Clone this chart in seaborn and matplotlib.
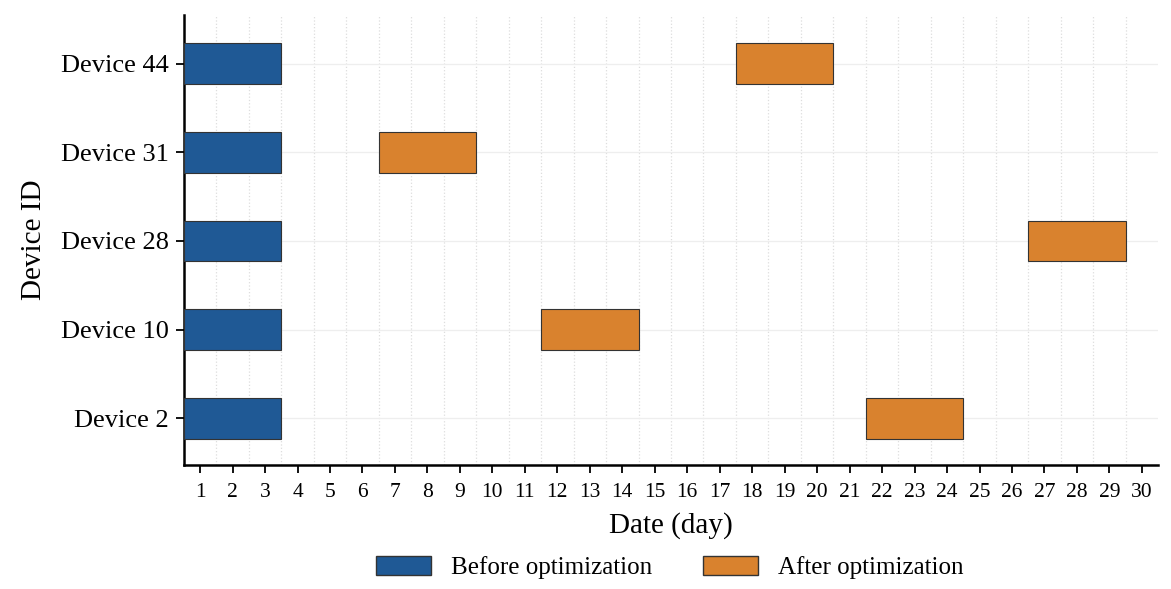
import pandas as pd
import seaborn as sns
import matplotlib.pyplot as plt
from matplotlib.patches import Patch

# Device schedule data (days)
devices = ['Device 2', 'Device 10', 'Device 28', 'Device 31', 'Device 44']
before_start = [1, 1, 1, 1, 1]
before_end = [3, 3, 3, 3, 3]
after_start = [22, 12, 27, 7, 18]
after_end = [24, 14, 29, 9, 20]
days = list(range(1, 31))

COLOR_BEFORE = '#1f5995'
COLOR_AFTER = '#d9822e'

sns.set_style("white")
plt.rcParams['font.family'] = ['Liberation Serif', 'DejaVu Serif']
plt.rcParams['text.color'] = 'black'
plt.rcParams['axes.labelcolor'] = 'black'

df = pd.DataFrame({
    'device': devices,
    'before_start': before_start,
    'before_end': before_end,
    'after_start': after_start,
    'after_end': after_end,
})

fig, ax = plt.subplots(figsize=(11.71, 5.89), dpi=100)
fig.subplots_adjust(left=0.157, right=0.989, top=0.975, bottom=0.21)

ypos = list(range(len(devices)))
bar_h = 0.46

ax.barh(ypos, df['before_end'] - df['before_start'] + 1, left=df['before_start'] - 0.5,
        height=bar_h, color=COLOR_BEFORE, edgecolor='#333333', linewidth=0.8, zorder=3)
ax.barh(ypos, df['after_end'] - df['after_start'] + 1, left=df['after_start'] - 0.5,
        height=bar_h, color=COLOR_AFTER, edgecolor='#333333', linewidth=0.8, zorder=3)

ax.set_xlim(0.5, 30.5)
ax.set_ylim(-0.53, 4.55)
ax.set_xticks(days)
ax.set_xticklabels([str(d) for d in days], fontsize=15.5)
ax.set_xticks([d + 0.5 for d in days[:-1]], minor=True)
ax.set_yticks(ypos)
ax.set_yticklabels(devices, fontsize=19)

ax.grid(which='minor', axis='x', color='#dddddd', linestyle=':', linewidth=0.9, zorder=0)
ax.grid(which='major', axis='y', color='#eeeeee', linestyle='-', linewidth=0.9, zorder=0)
ax.grid(which='major', axis='x', visible=False)

ax.tick_params(axis='both', which='major', direction='out', length=6, width=1.3,
               colors='black', bottom=True, left=True)
ax.tick_params(axis='x', which='major', pad=7)
ax.tick_params(axis='y', which='major', pad=5)
ax.tick_params(axis='x', which='minor', length=0)

sns.despine(ax=ax)
for side in ['left', 'bottom']:
    ax.spines[side].set_linewidth(1.8)
    ax.spines[side].set_color('black')

ax.set_xlabel('Date (day)', fontsize=21, labelpad=7)
ax.set_ylabel('Device ID', fontsize=21, labelpad=10)

handles = [
    Patch(facecolor=COLOR_BEFORE, edgecolor='#333333', label='Before optimization'),
    Patch(facecolor=COLOR_AFTER, edgecolor='#333333', label='After optimization'),
]
fig.legend(handles=handles, loc='lower center', bbox_to_anchor=(0.572, -0.022), ncol=2,
           frameon=False, fontsize=18, handlelength=2.2, handleheight=0.8,
           columnspacing=2.0, handletextpad=0.8)

fig.savefig('out.png', dpi=100)
